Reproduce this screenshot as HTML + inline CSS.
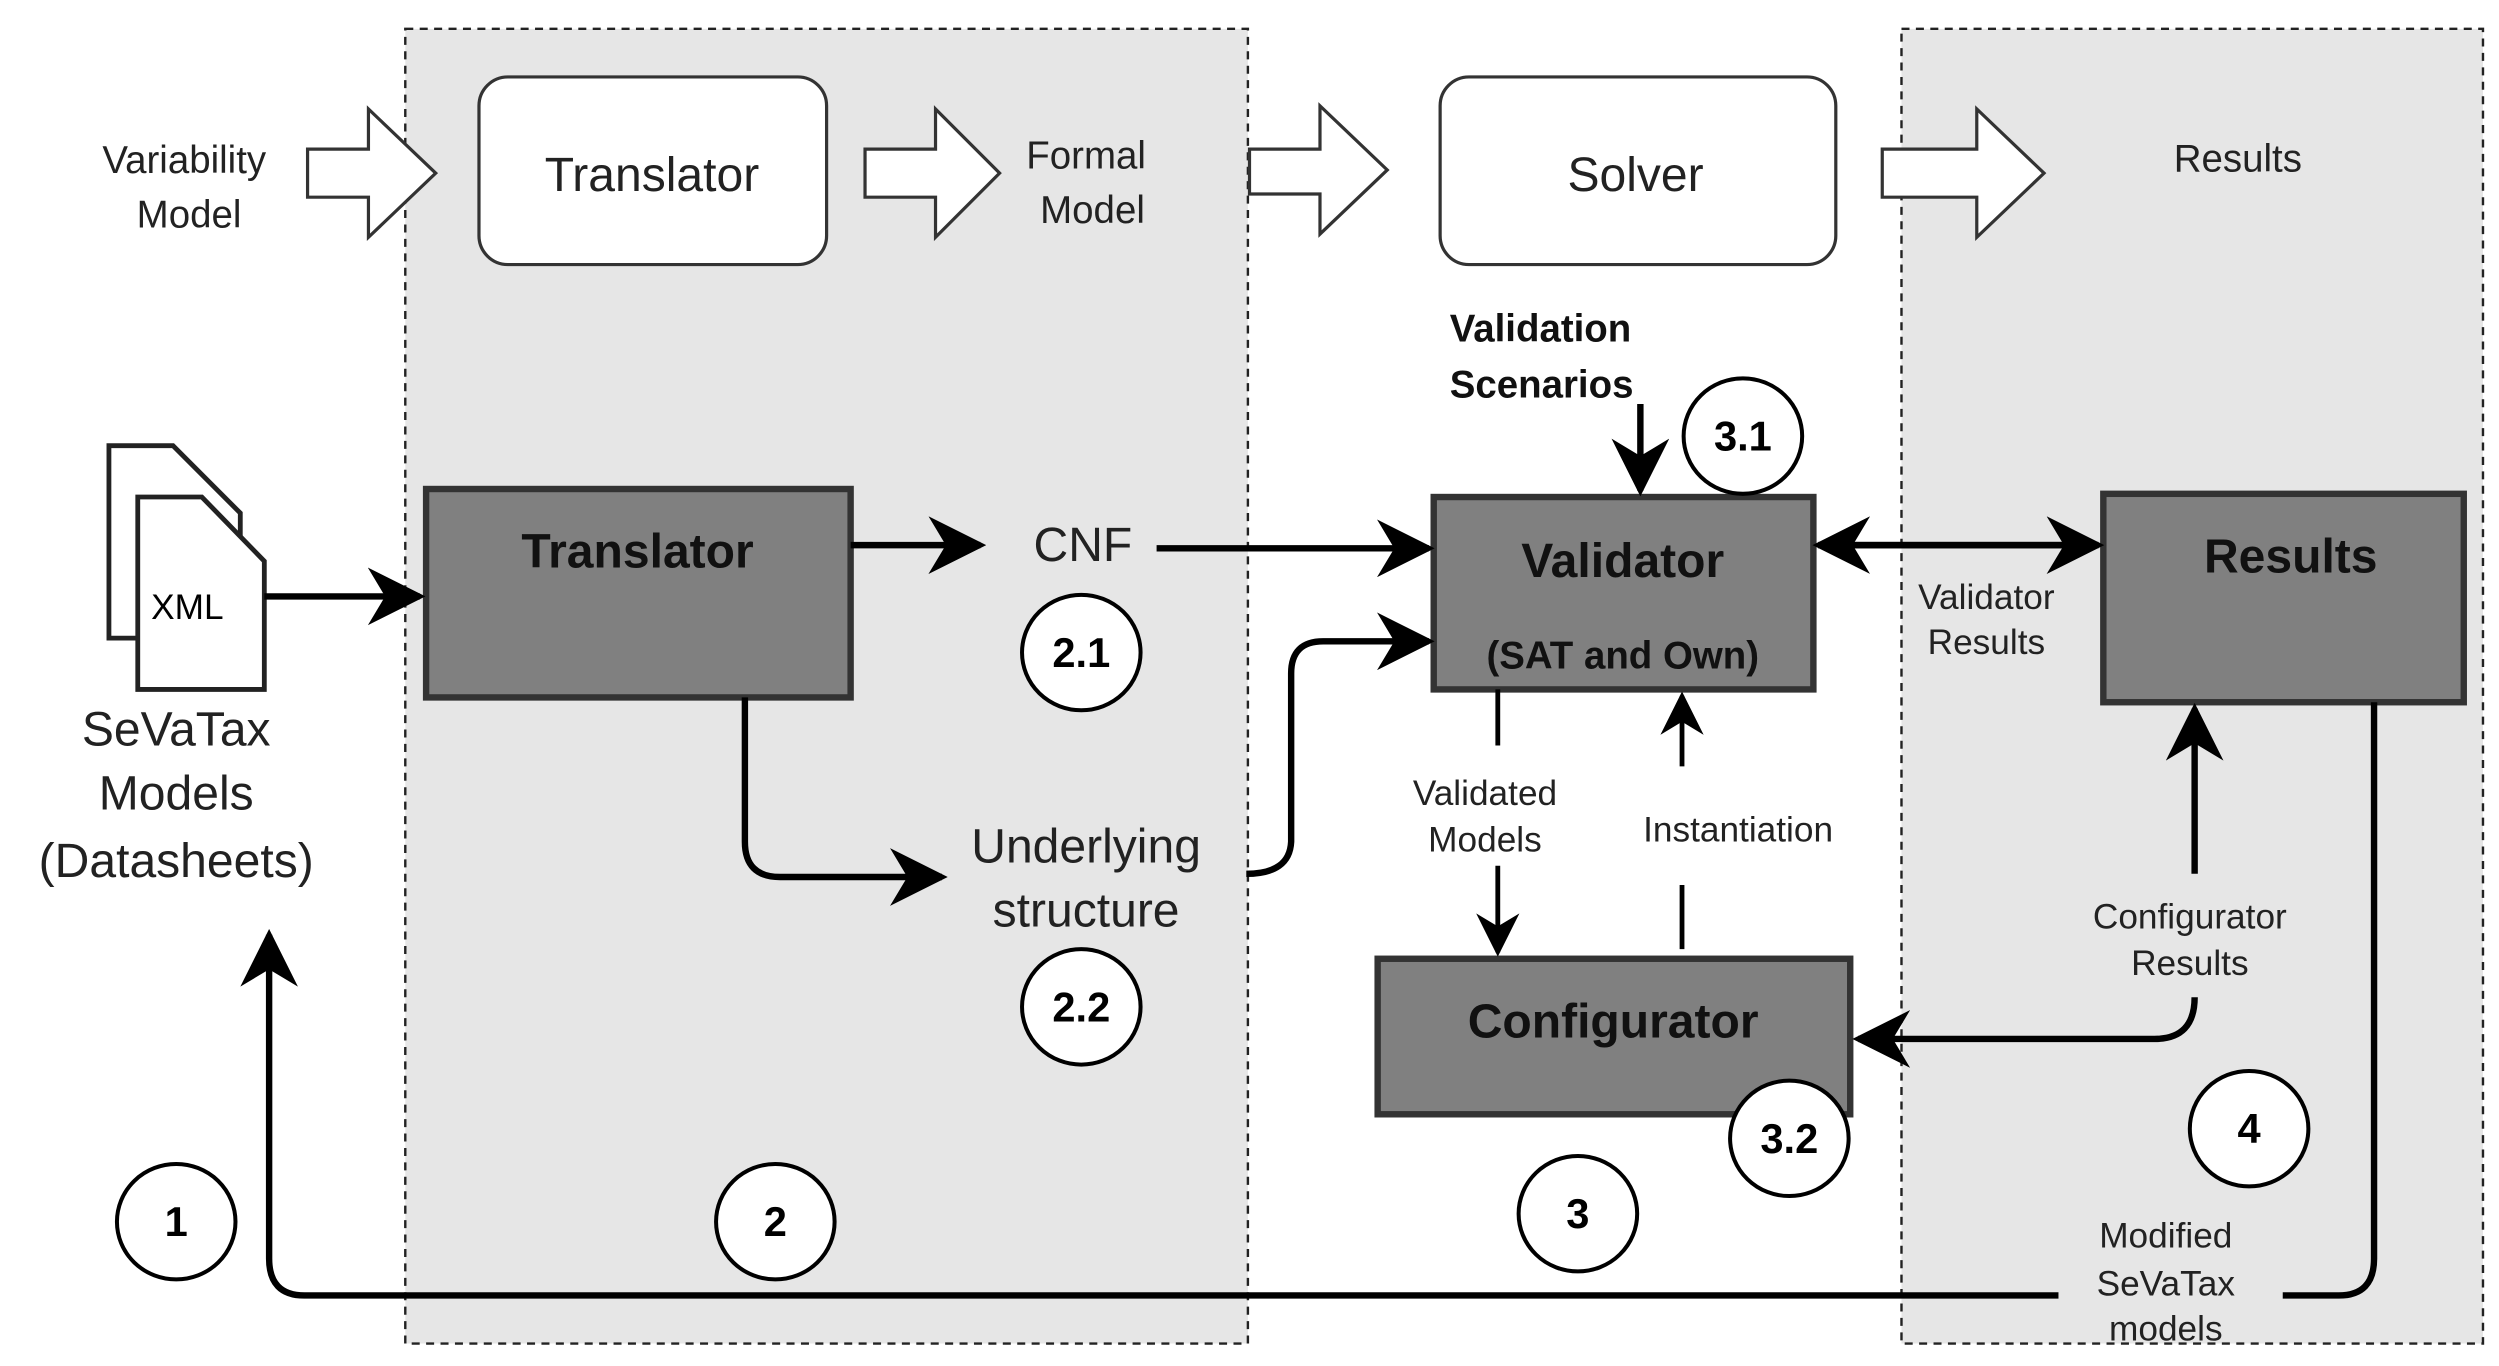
<!DOCTYPE html>
<html><head><meta charset="utf-8"><style>html,body{margin:0;padding:0;background:#fff;overflow:hidden}svg{display:block}</style></head><body>
<svg width="2499" height="1366" viewBox="0 0 1560 852" preserveAspectRatio="none" xmlns="http://www.w3.org/2000/svg" font-family="Liberation Sans, sans-serif">
<defs>
<marker id="a" viewBox="0 0 10 10" refX="9" refY="5" markerWidth="7" markerHeight="7" markerUnits="userSpaceOnUse" orient="auto"><path d="M0,0 L10,5 L0,10 L3,5 z" fill="#000"/></marker>
<marker id="b" viewBox="0 0 10 10" refX="9" refY="5" markerWidth="9" markerHeight="9" orient="auto"><path d="M0,0 L10,5 L0,10 L3,5 z" fill="#000"/></marker>
</defs>
<rect x="0" y="0" width="1560" height="852" fill="#fff"/>
<rect x="253" y="18" width="526" height="820" fill="#e6e6e6" stroke="#222" stroke-width="1.5" stroke-dasharray="5,4"/>
<rect x="1187" y="18" width="363" height="820" fill="#e6e6e6" stroke="#222" stroke-width="1.5" stroke-dasharray="5,4"/>
<g fill="#fff" stroke="#333" stroke-width="2">
<path d="M192,93 H230 V68 L272,108 L230,148 V123 H192 Z"/>
<path d="M540,93 H584 V68 L624,108 L584,148 V123 H540 Z"/>
<path d="M780,93 H824 V66 L866,106 L824,146 V121 H780 Z"/>
<path d="M1175,93 H1234 V68 L1276,108 L1234,148 V123 H1175 Z"/>
<rect x="299" y="48" width="217" height="117" rx="18"/>
<rect x="899" y="48" width="247" height="117" rx="18"/>
</g>
<g font-size="24" fill="#222" text-anchor="middle">
<text x="115" y="108">Variability</text><text x="118" y="142">Model</text>
<text x="678" y="105">Formal</text><text x="682" y="139">Model</text>
<text x="1397" y="107">Results</text>
<text x="407" y="119" font-size="30">Translator</text>
<text x="1021" y="119" font-size="30">Solver</text>
</g>
<g fill="#fff" stroke="#222" stroke-width="3">
<path d="M68,278 H108 L150,320 V398 H68 Z"/>
<path d="M86,310 H126 L165,350 V430 H86 Z"/>
</g>
<text x="117" y="386" font-size="22" text-anchor="middle">XML</text>
<g font-size="30" text-anchor="middle" fill="#222">
<text x="110" y="465">SeVaTax</text><text x="110" y="505">Models</text><text x="110" y="547">(Datasheets)</text>
<text x="676" y="350">CNF</text>
<text x="678" y="538">Underlying</text><text x="678" y="578">structure</text>
</g>
<g fill="#808080" stroke="#333" stroke-width="4">
<rect x="266" y="305" width="265" height="130"/>
<rect x="895" y="310" width="237" height="120"/>
<rect x="1313" y="308" width="225" height="130"/>
<rect x="860" y="598" width="295" height="97"/>
</g>
<g font-weight="bold" font-size="30" text-anchor="middle" fill="#111">
<text x="398" y="354">Translator</text>
<text x="1013" y="360">Validator</text>
<text x="1013" y="417" font-size="24">(SAT and Own)</text>
<text x="1430" y="357">Results</text>
<text x="1007" y="647">Configurator</text>
<text x="905" y="213" font-size="24" text-anchor="start">Validation</text>
<text x="905" y="248" font-size="24" text-anchor="start">Scenarios</text>
</g>
<g fill="none" stroke="#000" stroke-width="4">
<path d="M165,372 H262" marker-end="url(#b)"/>
<path d="M531,340 H612" marker-end="url(#b)"/>
<path d="M722,342 H892" marker-end="url(#b)"/>
<path d="M465,435 V525 Q465,547 487,547 H588" marker-end="url(#b)"/>
<path d="M778,545 Q805,545 806,525 V420 Q806,400 826,400 H892" marker-end="url(#b)"/>
<path d="M1024,252 V306" marker-end="url(#b)"/>
<path d="M1140,340 H1310" marker-end="url(#b)"/>
<path d="M1305,340 H1135" marker-end="url(#b)"/>
<path d="M1370,545 V442" marker-end="url(#b)"/>
<path d="M1370,622 Q1370,648 1345,648 H1160" marker-end="url(#b)"/>
<path d="M1482,438 V785 Q1482,808 1460,808 H1425"/>
<path d="M1285,808 H190 Q168,808 168,785 V583" marker-end="url(#b)"/>
</g>
<g fill="none" stroke="#000" stroke-width="3">
<path d="M935,430 V465"/>
<path d="M935,540 V594" marker-end="url(#b)"/>
<path d="M1050,592 V552"/>
<path d="M1050,478 V434" marker-end="url(#b)"/>
</g>
<g font-size="22" text-anchor="middle" fill="#222">
<text x="1240" y="380">Validator</text><text x="1240" y="408">Results</text>
<text x="927" y="502">Validated</text><text x="927" y="531">Models</text>
<text x="1085" y="525">Instantiation</text>
<text x="1367" y="579">Configurator</text><text x="1367" y="608">Results</text>
<text x="1352" y="778">Modified</text><text x="1352" y="808">SeVaTax</text><text x="1352" y="836">models</text>
</g>
<g fill="#fff" stroke="#000" stroke-width="2.5">
<ellipse cx="675" cy="407" rx="37" ry="36"/>
<ellipse cx="675" cy="628" rx="37" ry="36"/>
<ellipse cx="1088" cy="272" rx="37" ry="36"/>
<ellipse cx="1117" cy="710" rx="37" ry="36"/>
<ellipse cx="1404" cy="704" rx="37" ry="36"/>
<ellipse cx="110" cy="762" rx="37" ry="36"/>
<ellipse cx="484" cy="762" rx="37" ry="36"/>
<ellipse cx="985" cy="757" rx="37" ry="36"/>
</g>
<g font-weight="bold" font-size="26" text-anchor="middle" fill="#000">
<text x="675" y="416">2.1</text><text x="675" y="637">2.2</text>
<text x="1088" y="281">3.1</text><text x="1117" y="719">3.2</text>
<text x="1404" y="713">4</text><text x="110" y="771">1</text>
<text x="484" y="771">2</text><text x="985" y="766">3</text>
</g>
</svg>
</body></html>
